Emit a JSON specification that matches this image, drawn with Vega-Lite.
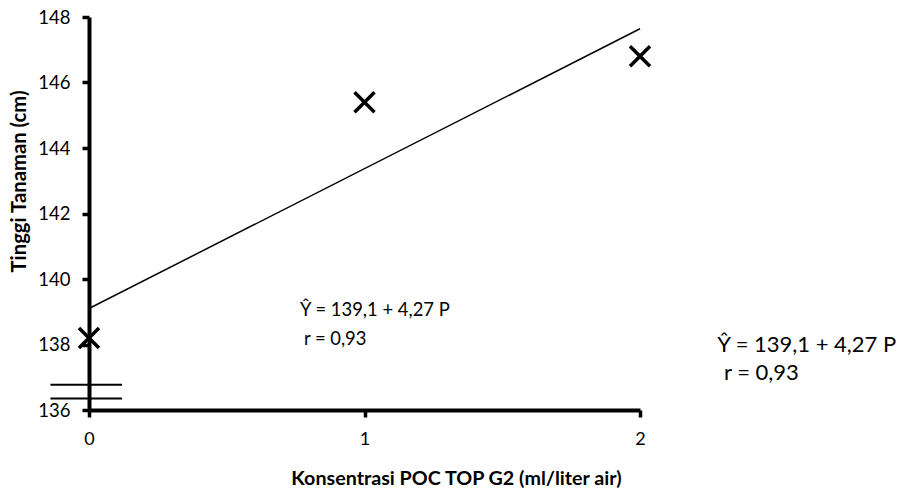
{
  "$schema": "https://vega.github.io/schema/vega-lite/v6.json",
  "width": 551,
  "height": 393,
  "autosize": "none",
  "padding": {"left": 89, "top": 17, "right": 273, "bottom": 85},
  "background": "white",
  "config": {
    "view": {"stroke": null},
    "font": "Lato",
    "axis": {
      "grid": false,
      "labelOverlap": false,
      "labelFlush": false,
      "domainColor": "black",
      "domainWidth": 4,
      "tickColor": "black",
      "tickWidth": 3.5,
      "tickSize": 7,
      "labelColor": "black",
      "labelFont": "Lato",
      "titleColor": "black",
      "titleFont": "Lato",
      "titleFontWeight": "bold"
    }
  },
  "datasets": {
    "observed": [
      {"dosis": 0, "tinggi": 138.2},
      {"dosis": 1, "tinggi": 145.4},
      {"dosis": 2, "tinggi": 146.8}
    ],
    "regression": [
      {"dosis": 0, "tinggi": 139.1},
      {"dosis": 2, "tinggi": 147.64}
    ],
    "axisBreak": [
      {"dosis": -0.14, "dosisEnd": 0.12, "tinggi": 136.77},
      {"dosis": -0.14, "dosisEnd": 0.12, "tinggi": 136.35}
    ]
  },
  "layer": [
    {
      "data": {"name": "regression"},
      "mark": {"type": "line", "color": "black", "strokeWidth": 1.5},
      "encoding": {
        "x": {
          "field": "dosis",
          "type": "quantitative",
          "scale": {"domain": [0, 2]},
          "axis": {
            "values": [0, 1, 2],
            "labelExpr": "'' + datum.value",
            "labelFontSize": 18,
            "labelPadding": 13,
            "title": "Konsentrasi POC TOP G2 (ml/liter air)",
            "titleFontSize": 19.7,
            "titleX": 367,
            "titleY": 68,
            "titleAlign": "center",
            "titleBaseline": "middle"
          }
        },
        "y": {
          "field": "tinggi",
          "type": "quantitative",
          "scale": {"domain": [136, 148]},
          "axis": {
            "values": [136, 138, 140, 142, 144, 146, 148],
            "labelExpr": "'' + datum.value",
            "labelFontSize": 18.5,
            "labelPadding": 12,
            "title": "Tinggi Tanaman (cm)",
            "titleFontSize": 20.3,
            "titleX": -70,
            "titleY": 164,
            "titleAngle": -90,
            "titleAlign": "center",
            "titleBaseline": "middle"
          }
        }
      }
    },
    {
      "data": {"name": "observed"},
      "mark": {
        "type": "point",
        "shape": "M-1,-1L1,1M-1,1L1,-1",
        "filled": false,
        "color": "black",
        "strokeWidth": 3.5,
        "size": 400,
        "opacity": 1
      },
      "encoding": {
        "x": {"field": "dosis", "type": "quantitative"},
        "y": {"field": "tinggi", "type": "quantitative"}
      }
    },
    {
      "data": {"name": "axisBreak"},
      "mark": {"type": "rule", "color": "black", "strokeWidth": 2, "clip": false},
      "encoding": {
        "x": {"field": "dosis", "type": "quantitative"},
        "x2": {"field": "dosisEnd"},
        "y": {"field": "tinggi", "type": "quantitative"}
      }
    },
    {
      "data": {"values": [{}]},
      "mark": {"type": "text", "align": "left", "baseline": "middle", "fontSize": 18.4, "font": "Lato", "color": "black", "clip": false},
      "encoding": {
        "x": {"datum": 0.766, "type": "quantitative"},
        "y": {"datum": 139.05, "type": "quantitative"},
        "text": {"value": "Ŷ = 139,1 + 4,27 P"}
      }
    },
    {
      "data": {"values": [{}]},
      "mark": {"type": "text", "align": "left", "baseline": "middle", "fontSize": 18.4, "font": "Lato", "color": "black", "clip": false},
      "encoding": {
        "x": {"datum": 0.78, "type": "quantitative"},
        "y": {"datum": 138.18, "type": "quantitative"},
        "text": {"value": "r  = 0,93"}
      }
    },
    {
      "data": {"values": [{}]},
      "mark": {"type": "text", "align": "left", "baseline": "middle", "fontSize": 22, "font": "Lato", "color": "black", "clip": false},
      "encoding": {
        "x": {"datum": 2.28, "type": "quantitative"},
        "y": {"datum": 137.97, "type": "quantitative"},
        "text": {"value": "Ŷ = 139,1 + 4,27 P"}
      }
    },
    {
      "data": {"values": [{}]},
      "mark": {"type": "text", "align": "left", "baseline": "middle", "fontSize": 22, "font": "Lato", "color": "black", "clip": false},
      "encoding": {
        "x": {"datum": 2.305, "type": "quantitative"},
        "y": {"datum": 137.12, "type": "quantitative"},
        "text": {"value": "r  = 0,93"}
      }
    }
  ]
}
